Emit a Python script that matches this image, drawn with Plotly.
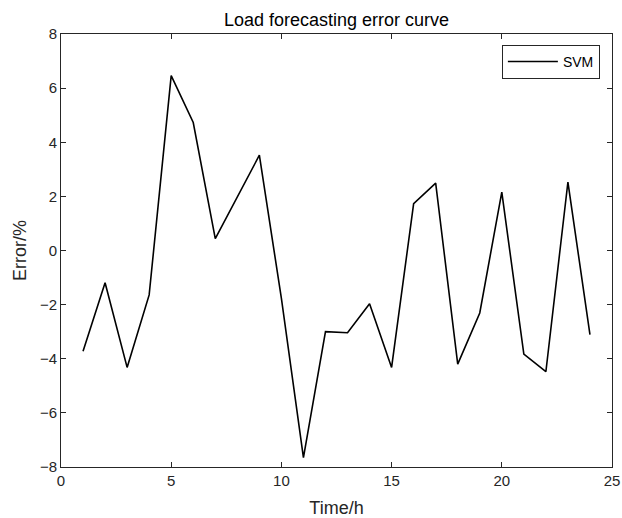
import plotly.graph_objects as go

hours = list(range(1, 25))
svm_error = [-3.72, -1.19, -4.32, -1.64, 6.46, 4.73, 0.44, 1.98, 3.52, -1.77,
             -7.65, -3.0, -3.04, -1.97, -4.32, 1.73, 2.49, -4.2, -2.31, 2.16,
             -3.83, -4.48, 2.53, -3.11]
x_ticks = [0, 5, 10, 15, 20, 25]
y_ticks = [-8, -6, -4, -2, 0, 2, 4, 6, 8]

FONT = "Liberation Sans, Arial, sans-serif"
AX = "#262626"

fig = go.Figure()
fig.add_trace(go.Scatter(x=hours, y=svm_error, mode="lines", name="SVM",
                         line=dict(color="black", width=1.6)))

axis_common = dict(showline=True, mirror="ticks", linecolor=AX, linewidth=1,
                   ticks="inside", ticklen=5, tickcolor=AX, showgrid=False,
                   zeroline=False, automargin=False, ticklabeloverflow="allow",
                   tickfont=dict(family=FONT, size=15, color=AX))

W, H = 622, 518
L, R, T, B = 61, 10, 34, 51

fig.update_layout(
    width=W, height=H,
    margin=dict(l=L, r=R, t=T, b=B),
    paper_bgcolor="white", plot_bgcolor="white",
    title=dict(text="Load forecasting error curve", x=(L + (W - L - R) / 2) / W, xanchor="center",
               y=1 - 20 / H, yanchor="middle",
               font=dict(family=FONT, size=18, color="black")),
    xaxis=dict(range=[0, 25], tickvals=x_ticks,
               title=dict(text="Time/h", font=dict(family=FONT, size=18, color=AX), standoff=15),
               **axis_common),
    yaxis=dict(range=[-8, 8], tickvals=y_ticks,
               title=dict(text="Error/%", font=dict(family=FONT, size=18, color=AX), standoff=8),
               **axis_common),
    showlegend=True,
    legend=dict(x=0.978, y=0.975, xanchor="right", yanchor="top",
                bgcolor="white", bordercolor=AX, borderwidth=1, itemwidth=50,
                font=dict(family=FONT, size=14, color="black")),
)

fig.write_html("out.html", config={"displayModeBar": False},
               post_script="document.body.style.margin='0';document.body.style.overflow='hidden';")
